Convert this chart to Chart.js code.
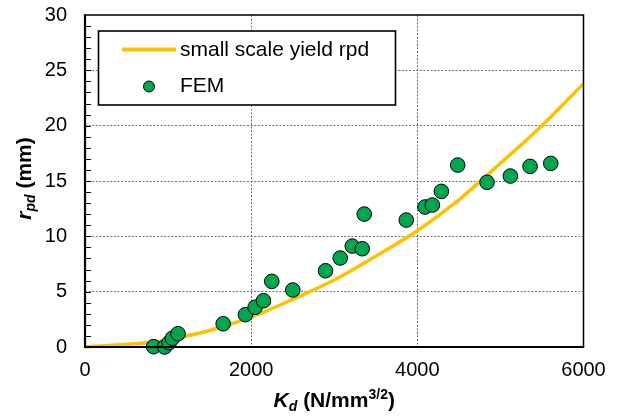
<!DOCTYPE html>
<html>
<head>
<meta charset="utf-8">
<script src="https://cdn.jsdelivr.net/npm/chart.js@4.4.1/dist/chart.umd.min.js"></script>
<style>
  html, body { margin: 0; padding: 0; background: #ffffff; }
  #wrap { width: 619px; height: 416px; position: relative; }
</style>
</head>
<body>
<div id="wrap"><canvas id="c" width="619" height="416"></canvas></div>
<script>
// ---- data ----
const curveK = [0, 826, 1000, 1500, 2000, 2500, 3000, 3500, 4000, 4500, 5000, 5500, 6000];
const curveR = [0, 0.45, 0.66, 1.49, 2.7, 4.3, 6.05, 8.2, 10.5, 13.3, 16.6, 20.0, 23.8];
const femK = [826, 959, 1012, 1052, 1120, 1663, 1931, 2048, 2148, 2248, 2501, 2895, 3072, 3217, 3337, 3361, 3867, 4092, 4181, 4289, 4486, 4839, 5120, 5357, 5606];
const femR = [0.03, 0.0, 0.39, 0.79, 1.2, 2.1, 2.92, 3.59, 4.18, 5.93, 5.15, 6.89, 8.04, 9.12, 8.88, 12.01, 11.47, 12.65, 12.83, 14.06, 16.44, 14.88, 15.45, 16.32, 16.59];
const xTicks = [0, 2000, 4000, 6000];
const yTicks = [0, 5, 10, 15, 20, 25, 30];
const seriesNames = ['small scale yield rpd', 'FEM'];

const LINE_COLOR = '#FFC000';
const PT_COLOR = '#00A550';
const FONT = '"Liberation Sans", Arial, sans-serif';

const curveData = curveK.map((k, i) => ({ x: k, y: curveR[i] }));
const femData = femK.map((k, i) => ({ x: k, y: femR[i] }));

const frame = {
  id: 'frame',
  beforeDatasetsDraw(chart) {
    const { ctx, chartArea: a, scales } = chart;
    ctx.save();
    ctx.strokeStyle = '#000';
    ctx.lineWidth = 1;
    for (let v = 1; v < 30; v++) {
      const y = Math.round(scales.y.getPixelForValue(v)) + 0.5;
      ctx.beginPath();
      ctx.moveTo(a.left, y);
      ctx.lineTo(a.left + 6, y);
      ctx.stroke();
    }
    ctx.restore();
  },
  afterDatasetsDraw(chart) {
    const { ctx, chartArea: a } = chart;
    ctx.save();
    ctx.strokeStyle = '#000';
    ctx.lineWidth = 1.5;
    ctx.beginPath();
    ctx.moveTo(a.left, a.top);
    ctx.lineTo(a.right, a.top);
    ctx.lineTo(a.right, a.bottom);
    ctx.stroke();
    ctx.lineWidth = 2.2;
    ctx.beginPath();
    ctx.moveTo(a.left, a.top - 0.7);
    ctx.lineTo(a.left, a.bottom);
    ctx.lineTo(a.right + 0.7, a.bottom);
    ctx.stroke();

    // legend
    const lx = 98.5, ly = 31, lw = 297, lh = 74;
    ctx.fillStyle = '#fff';
    ctx.fillRect(lx, ly, lw, lh);
    ctx.lineWidth = 1.6;
    ctx.strokeStyle = '#000';
    ctx.strokeRect(lx, ly, lw, lh);
    ctx.strokeStyle = LINE_COLOR;
    ctx.lineWidth = 4;
    ctx.beginPath();
    ctx.moveTo(122, 49.5);
    ctx.lineTo(176, 49.5);
    ctx.stroke();
    ctx.beginPath();
    ctx.arc(149, 86.5, 5.5, 0, Math.PI * 2);
    ctx.fillStyle = PT_COLOR;
    ctx.fill();
    ctx.lineWidth = 1;
    ctx.strokeStyle = '#000';
    ctx.stroke();
    ctx.fillStyle = '#000';
    ctx.font = '21px ' + FONT;
    ctx.textBaseline = 'middle';
    ctx.textAlign = 'left';
    ctx.fillText(seriesNames[0], 180, 50);
    ctx.fillText(seriesNames[1], 180, 86);

    // x axis title: K_d (N/mm^{3/2})
    const base = 407;
    const parts = [
      { t: 'K', f: 'italic bold 21px ' + FONT, dy: 0 },
      { t: 'd', f: 'italic bold 14px ' + FONT, dy: 4 },
      { t: ' (N/mm', f: 'bold 21px ' + FONT, dy: 0 },
      { t: '3/2', f: 'bold 14px ' + FONT, dy: -8 },
      { t: ')', f: 'bold 21px ' + FONT, dy: 0 }
    ];
    ctx.textBaseline = 'alphabetic';
    let total = 0;
    parts.forEach(p => { ctx.font = p.f; p.w = ctx.measureText(p.t).width; total += p.w; });
    let x = (a.left + a.right) / 2 - total / 2;
    parts.forEach(p => { ctx.font = p.f; ctx.fillText(p.t, x, base + p.dy); x += p.w; });

    // y axis title: r_pd (mm)
    const yparts = [
      { t: 'r', f: 'italic bold 21px ' + FONT, dy: 0 },
      { t: 'pd', f: 'italic bold 14px ' + FONT, dy: 4 },
      { t: ' (mm)', f: 'bold 21px ' + FONT, dy: 0 }
    ];
    let ytot = 0;
    yparts.forEach(p => { ctx.font = p.f; p.w = ctx.measureText(p.t).width; ytot += p.w; });
    ctx.translate(31, 178.5);
    ctx.rotate(-Math.PI / 2);
    let yx = -ytot / 2;
    yparts.forEach(p => { ctx.font = p.f; ctx.fillText(p.t, yx, p.dy); yx += p.w; });
    ctx.restore();
  }
};

const gridColor = (ctx, maxV) => {
  const v = ctx.tick ? ctx.tick.value : null;
  if (v === 0 || v === maxV) return 'rgba(0,0,0,0)';
  return '#6f6f6f';
};

new Chart(document.getElementById('c'), {
  type: 'scatter',
  data: {
    datasets: [
      {
        label: seriesNames[1],
        data: femData,
        backgroundColor: PT_COLOR,
        borderColor: '#000',
        borderWidth: 1,
        pointRadius: 7.3,
        pointHoverRadius: 7.3,
        order: 0,
        clip: false
      },
      {
        label: seriesNames[0],
        data: curveData,
        showLine: true,
        borderColor: LINE_COLOR,
        borderWidth: 3.5,
        pointRadius: 0,
        cubicInterpolationMode: 'monotone',
        fill: false,
        order: 1,
        clip: 3
      }
    ]
  },
  options: {
    responsive: false,
    animation: false,
    layout: { padding: { top: 15, right: 35.5, left: 0, bottom: 0 } },
    plugins: { legend: { display: false }, tooltip: { enabled: false } },
    scales: {
      x: {
        type: 'linear',
        min: 0, max: 6000,
        afterBuildTicks: s => { s.ticks = xTicks.map(v => ({ value: v })); },
        afterFit: s => { s.height = 69; s.paddingLeft = 0; s.paddingRight = 0; },
        ticks: { color: '#000', font: { family: FONT, size: 20 }, padding: 11, maxRotation: 0, callback: v => String(v) },
        grid: { color: c => gridColor(c, 6000), lineWidth: 1, drawTicks: false },
        border: { display: false, dash: [2, 1.6] }
      },
      y: {
        type: 'linear',
        min: 0, max: 30,
        afterBuildTicks: s => { s.ticks = yTicks.map(v => ({ value: v })); },
        afterFit: s => { s.width = 85; s.paddingTop = 0; s.paddingBottom = 0; },
        ticks: { color: '#000', font: { family: FONT, size: 20 }, padding: 18, callback: v => String(v) },
        grid: { color: c => gridColor(c, 30), lineWidth: 1, drawTicks: false },
        border: { display: false, dash: [2, 1.6] }
      }
    }
  },
  plugins: [frame]
});
</script>
</body>
</html>
